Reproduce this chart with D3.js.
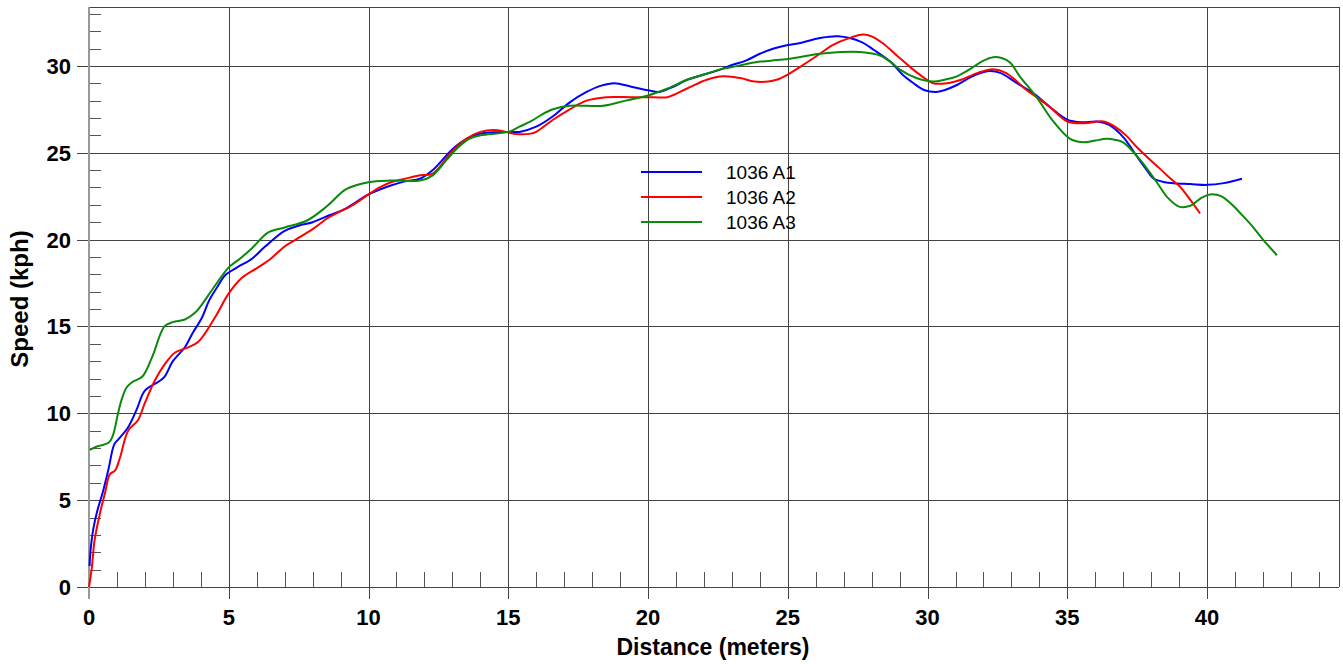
<!DOCTYPE html>
<html>
<head>
<meta charset="utf-8">
<script src="https://cdn.jsdelivr.net/npm/d3@7"></script>
<style>
  body { margin: 0; background: #fff; }
  text { font-family: "Liberation Sans", Arial, sans-serif; }
</style>
</head>
<body>
<div id="chart"></div>
<script>
// series names
var seriesNames = ["1036 A1", "1036 A2", "1036 A3"];
var seriesColors = ["#0000ff", "#ff0000", "#0a8a0a"];

// distance (m), speed (kph)
var a1 = [[0.02,1.2],[0.05,2.0],[0.15,3.3],[0.3,4.4],[0.5,5.5],[0.7,6.8],[0.9,8.2],[1.05,8.5],[1.4,9.2],[1.7,10.2],
  [2.0,11.3],[2.47,11.8],[2.7,12.1],[3.0,13.0],[3.43,13.8],[3.7,14.6],[4.04,15.5],[4.3,16.5],[4.6,17.3],
  [4.87,17.95],[5.3,18.4],[5.83,18.9],[6.3,19.6],[7.0,20.5],[7.5,20.8],[8.0,21.0],[8.6,21.4],[9.2,21.8],
  [10.0,22.6],[10.77,23.1],[11.3,23.35],[11.84,23.5],[12.3,24.0],[13.0,25.2],[13.5,25.8],[14.0,26.1],
  [15.0,26.2],[15.4,26.2],[16.0,26.5],[16.6,27.1],[17.2,27.9],[17.8,28.5],[18.3,28.85],[18.8,29.0],
  [19.4,28.8],[20.0,28.6],[20.4,28.5],[20.9,28.8],[21.4,29.2],[22.0,29.5],[22.6,29.8],[23.0,30.05],
  [23.5,30.3],[24.0,30.7],[24.5,31.0],[25.0,31.2],[25.4,31.3],[26.15,31.6],[26.8,31.7],[27.6,31.4],
  [28.1,30.9],[28.7,30.2],[29.1,29.5],[29.5,29.0],[29.9,28.6],[30.3,28.5],[30.6,28.6],[31.05,28.9],
  [31.6,29.4],[32.2,29.7],[32.6,29.6],[33.2,29.0],[33.8,28.4],[34.4,27.6],[35.0,26.9],[35.5,26.75],
  [36.06,26.8],[36.5,26.6],[37.0,25.9],[37.4,25.0],[37.8,24.1],[38.1,23.5],[38.5,23.3],[38.8,23.25],
  [39.4,23.2],[40.0,23.15],[40.6,23.25],[41.25,23.5]];

var a2 = [[0.0,0.0],[0.1,1.1],[0.2,2.7],[0.4,4.3],[0.57,5.4],[0.75,6.5],[0.93,6.7],[1.1,7.4],
  [1.4,9.0],[1.75,9.6],[2.0,10.6],[2.36,11.9],[2.7,12.8],[3.08,13.5],[3.55,13.8],[3.9,14.1],
  [4.5,15.5],[5.0,16.9],[5.47,17.8],[6.05,18.4],[6.5,18.9],[7.0,19.6],[7.4,20.0],[8.0,20.6],
  [8.6,21.3],[9.45,22.0],[10.0,22.6],[10.4,23.0],[10.8,23.3],[11.3,23.5],[11.84,23.7],[12.3,23.8],
  [13.0,25.1],[13.5,25.8],[14.0,26.2],[14.6,26.3],[15.2,26.1],[15.8,26.1],[16.0,26.2],[16.6,26.9],
  [17.2,27.5],[17.8,28.0],[18.5,28.2],[19.4,28.2],[20.2,28.2],[20.7,28.2],[21.4,28.7],[22.1,29.2],
  [22.7,29.4],[23.3,29.3],[23.8,29.1],[24.3,29.1],[24.6,29.2],[25.0,29.5],[25.4,29.9],[26.15,30.7],
  [26.6,31.2],[27.2,31.6],[27.7,31.8],[28.0,31.7],[28.4,31.3],[28.9,30.6],[29.4,29.9],[29.8,29.4],
  [30.2,29.0],[30.7,29.0],[31.2,29.2],[31.8,29.6],[32.35,29.8],[32.8,29.6],[33.2,29.1],[33.55,28.6],
  [34.0,28.1],[34.4,27.6],[35.0,26.8],[35.6,26.7],[36.3,26.8],[36.7,26.5],[37.1,26.0],[37.5,25.3],
  [37.96,24.6],[38.3,24.1],[38.7,23.5],[39.0,23.1],[39.3,22.5],[39.75,21.5]];

var a3 = [[0.03,7.9],[0.3,8.1],[0.7,8.3],[0.85,8.7],[1.04,10.0],[1.17,10.8],[1.35,11.5],[1.55,11.8],
  [1.9,12.1],[2.25,13.2],[2.7,15.0],[3.0,15.25],[3.43,15.4],[3.8,15.8],[4.1,16.4],[4.4,17.1],[5.0,18.4],
  [5.4,18.9],[5.83,19.5],[6.4,20.4],[7.0,20.7],[7.8,21.1],[8.5,21.9],[9.2,22.9],[10.0,23.3],[10.8,23.4],
  [11.84,23.4],[12.3,23.7],[12.8,24.6],[13.2,25.3],[13.6,25.8],[14.0,26.0],[15.0,26.2],[15.4,26.5],
  [15.8,26.8],[16.2,27.2],[16.6,27.5],[17.2,27.7],[17.8,27.7],[18.4,27.7],[19.2,28.0],[20.0,28.3],
  [20.7,28.7],[21.4,29.2],[22.0,29.5],[22.6,29.8],[23.2,30.0],[23.8,30.2],[24.4,30.3],[25.0,30.4],
  [25.4,30.5],[26.15,30.7],[26.9,30.8],[27.6,30.8],[28.3,30.6],[28.7,30.2],[29.0,29.8],[29.6,29.3],
  [30.2,29.1],[30.6,29.2],[31.05,29.4],[31.6,29.9],[32.0,30.3],[32.35,30.5],[32.65,30.45],[32.95,30.2],
  [33.3,29.4],[33.9,28.2],[34.5,26.8],[35.1,25.8],[35.6,25.6],[36.0,25.7],[36.4,25.8],[36.7,25.75],
  [37.0,25.6],[37.6,24.6],[38.2,23.3],[38.6,22.4],[39.0,21.9],[39.4,21.95],[39.8,22.4],[40.1,22.6],
  [40.5,22.5],[40.9,22.0],[41.2,21.5],[41.6,20.8],[42.0,20.0],[42.5,19.1]];

var seriesData = [a1, a2, a3];

var xMajorTicks = [0, 5, 10, 15, 20, 25, 30, 35, 40];
var yMajorTicks = [0, 5, 10, 15, 20, 25, 30];
var xMinorTicks = d3.range(0, 45, 1);
var yMinorTicks = d3.range(0, 34, 1);

(function() {
  var width = 1343, height = 664;
  var pLeft = 89, pTop = 7, pRight = 1339, pBottom = 587;

  var svg = d3.select('#chart')
      .append('svg')
      .attr('width', width)
      .attr('height', height);

  var x = d3.scaleLinear().domain([0, 44.72]).range([pLeft, pRight]);
  var y = d3.scaleLinear().domain([0, 33.39]).range([pBottom, pTop]);

  var gridColor = '#444';

  // gridlines
  svg.append('g').selectAll('line').data(xMajorTicks.slice(1)).enter().append('line')
    .attr('x1', function(d) { return Math.round(x(d)) + 0.5; })
    .attr('x2', function(d) { return Math.round(x(d)) + 0.5; })
    .attr('y1', pTop).attr('y2', pBottom + 12)
    .attr('stroke', gridColor).attr('stroke-width', 1);

  svg.append('g').selectAll('line').data(yMajorTicks).enter().append('line')
    .attr('y1', function(d) { return Math.round(y(d)) + 0.5; })
    .attr('y2', function(d) { return Math.round(y(d)) + 0.5; })
    .attr('x1', pLeft - 12).attr('x2', pRight)
    .attr('stroke', gridColor).attr('stroke-width', 1);

  // minor ticks
  svg.append('g').selectAll('line').data(xMinorTicks.filter(function(d) { return d % 5 !== 0; })).enter().append('line')
    .attr('x1', function(d) { return Math.round(x(d)) + 0.5; })
    .attr('x2', function(d) { return Math.round(x(d)) + 0.5; })
    .attr('y1', pBottom - 15).attr('y2', pBottom)
    .attr('stroke', '#555').attr('stroke-width', 1);

  svg.append('g').selectAll('line').data(yMinorTicks.filter(function(d) { return d % 5 !== 0; })).enter().append('line')
    .attr('y1', function(d) { return Math.round(y(d)) + 0.5; })
    .attr('y2', function(d) { return Math.round(y(d)) + 0.5; })
    .attr('x1', pLeft).attr('x2', pLeft + 12)
    .attr('stroke', '#555').attr('stroke-width', 1);

  // frame
  svg.append('line').attr('x1', pLeft).attr('x2', pRight + 0.5).attr('y1', pTop + 0.5).attr('y2', pTop + 0.5)
    .attr('stroke', gridColor);
  svg.append('line').attr('x1', pRight + 0.5).attr('x2', pRight + 0.5).attr('y1', pTop).attr('y2', pBottom)
    .attr('stroke', gridColor);
  svg.append('line').attr('x1', pLeft).attr('x2', pLeft).attr('y1', pTop).attr('y2', pBottom + 12)
    .attr('stroke', '#999').attr('stroke-width', 2);

  // tick labels
  svg.append('g').selectAll('text').data(xMajorTicks).enter().append('text')
    .attr('x', function(d) { return x(d); })
    .attr('y', 625)
    .attr('text-anchor', 'middle')
    .style('font-size', '22px').style('font-weight', 'bold')
    .text(function(d) { return d; });

  svg.append('g').selectAll('text').data(yMajorTicks).enter().append('text')
    .attr('x', 71)
    .attr('y', function(d) { return y(d) + 8; })
    .attr('text-anchor', 'end')
    .style('font-size', '22px').style('font-weight', 'bold')
    .text(function(d) { return d; });

  // axis titles
  svg.append('text')
    .attr('x', 713).attr('y', 655)
    .attr('text-anchor', 'middle')
    .style('font-size', '23px').style('font-weight', 'bold')
    .text('Distance (meters)');

  svg.append('text')
    .attr('transform', 'translate(28,299) rotate(-90)')
    .attr('text-anchor', 'middle')
    .style('font-size', '24px').style('font-weight', 'bold')
    .text('Speed (kph)');

  // lines
  var line = d3.line()
    .x(function(d) { return x(d[0]); })
    .y(function(d) { return y(d[1]); })
    .curve(d3.curveCatmullRom.alpha(0.5));

  svg.append('g').selectAll('path').data(seriesData).enter().append('path')
    .attr('d', line)
    .attr('fill', 'none')
    .attr('stroke', function(d, i) { return seriesColors[i]; })
    .attr('stroke-width', 2);

  // legend
  var legend = svg.append('g').attr('transform', 'translate(641,172)');
  var item = legend.selectAll('g').data(seriesNames).enter().append('g')
    .attr('transform', function(d, i) { return 'translate(0,' + (i * 25) + ')'; });
  item.append('line')
    .attr('x1', 0).attr('x2', 61).attr('y1', 0).attr('y2', 0)
    .attr('stroke', function(d, i) { return seriesColors[i]; })
    .attr('stroke-width', 2);
  item.append('text')
    .attr('x', 85).attr('y', 6.5)
    .style('font-size', '19px')
    .text(function(d) { return d; });
})();
</script>
</body>
</html>
